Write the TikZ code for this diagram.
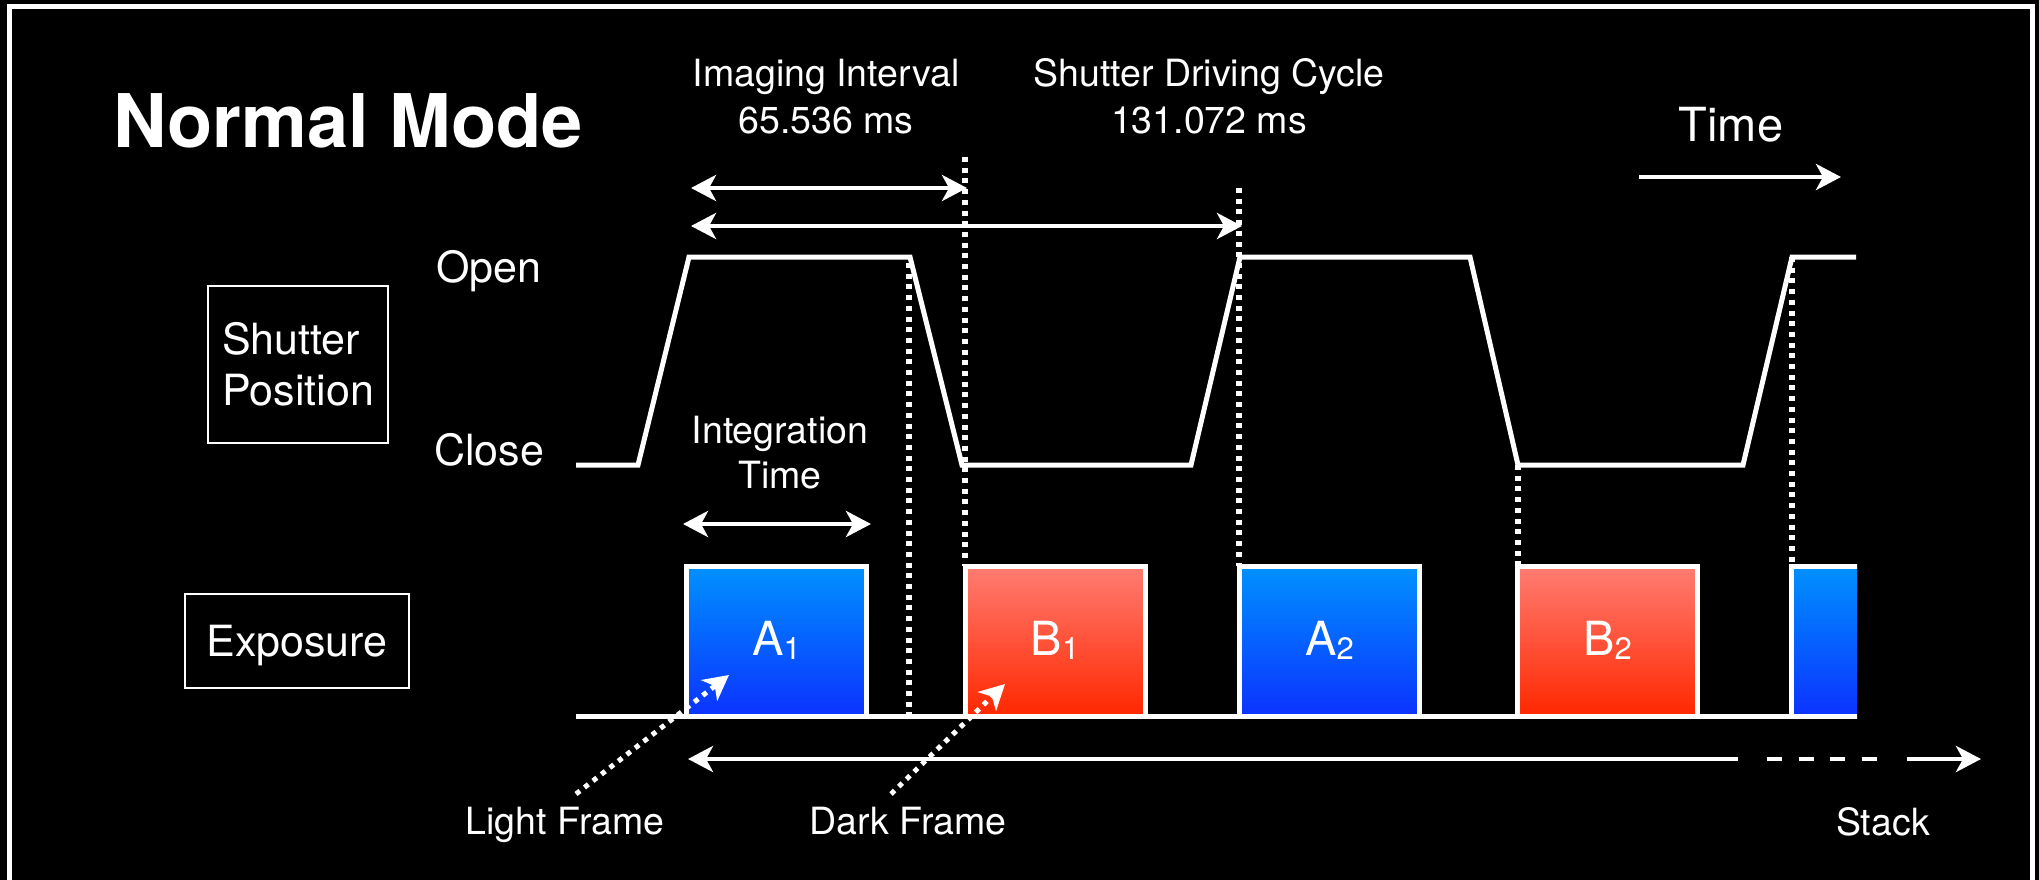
\documentclass[tikz,border=0pt]{standalone}
\usepackage{fontspec}
\setmainfont{TeX Gyre Heros}
\usetikzlibrary{arrows.meta}

\definecolor{bluetop}{RGB}{0,145,255}
\definecolor{bluebot}{RGB}{12,50,255}
\definecolor{redtop}{RGB}{255,124,114}
\definecolor{redbot}{RGB}{255,40,0}

% lowered index digit for the frame names
\newcommand\lowidx[1]{\raisebox{-4pt}{\fontsize{31}{31}\selectfont#1}}

\begin{document}
\begin{tikzpicture}[x=1pt,y=-1pt,
  >={Stealth[length=25pt,width=26pt,inset=7pt]},
  wave/.style={white,line width=5pt,line join=miter},
  guide/.style={white,line width=5.5pt,dash pattern=on 5pt off 5.7pt},
  span/.style={white,line width=4.5pt},
  lbl/.style={text=white,inner sep=0pt,anchor=base,font=\fontsize{37.5}{47}\selectfont},
  side/.style={text=white,inner sep=0pt,anchor=base,font=\fontsize{43}{51}\selectfont},
  frame/.style={draw=white,line width=2.5pt,inner sep=0pt,text=white,font=\fontsize{43}{51}\selectfont},
  light/.style={draw=white,line width=5pt,top color=bluetop,bottom color=bluebot,
    minimum width=180pt,minimum height=150pt,inner sep=0pt,text=white,
    text height=32pt,text depth=4pt,font=\fontsize{47}{47}\selectfont},
  dark/.style={light,top color=redtop,bottom color=redbot},
]
\useasboundingbox (0,0) rectangle (2039,880);
\fill[black] (0,0) rectangle (2039,880);

% outer frame
\draw[white,line width=5pt] (9.5,880) -- (9.5,7) -- (2032,7) -- (2032,880);

% title
\node[text=white,inner sep=0pt,anchor=base west,font=\fontsize{74}{74}\selectfont\bfseries] (title) at (113,147) {Normal Mode};

% row headers
\node[frame,align=left,minimum width=180pt,minimum height=157pt] (sp) at (298,364.5) {Shutter\\Position};
\node[frame,minimum width=224pt,minimum height=94pt,text height=30pt,text depth=0pt] (ex) at (297,641) {Exposure};
\node[side] (open) at (489,282) {Open};
\node[side] (close) at (489,465) {Close};

% exposure frames
\node[light] (a1) at (776.5,641) {A\lowidx{1}};
\node[dark]  (b1) at (1055,641) {B\lowidx{1}};
\node[light] (a2) at (1329.5,641) {A\lowidx{2}};
\node[dark]  (b2) at (1607.5,641) {B\lowidx{2}};
\begin{scope}
  \clip (1700,540) rectangle (1857,730);
  \node[light] (a3) at (1881,641) {};
\end{scope}

% exposure base line
\draw[wave] (576,716) -- (1857,716);

% dotted guides
\draw[guide] (909,263) -- (909,716);
\draw[guide] (965,157) -- (965,566);
\draw[guide] (1239,188) -- (1239,566);
\draw[guide] (1518,465) -- (1518,566);
\draw[guide] (1792,257) -- (1792,566);

% shutter position trace
\draw[wave] (576,465) -- (638,465) -- (689,257) -- (910,257) -- (962,465)
  -- (1191,465) -- (1240,257) -- (1470,257) -- (1518,465)
  -- (1743,465) -- (1792,257) -- (1856,257);

% span arrows
\coordinate (ii-l) at (691,188);  \coordinate (ii-r) at (967,188);
\coordinate (cy-l) at (691,226);  \coordinate (cy-r) at (1242,226);
\coordinate (it-l) at (683,524);  \coordinate (it-r) at (871,524);
\coordinate (t-l)  at (1639,177); \coordinate (t-r)  at (1841,177);
\draw[span,<->] (ii-l) -- (ii-r);
\draw[span,<->] (cy-l) -- (cy-r);
\draw[span,<->] (it-l) -- (it-r);
\draw[span,->]  (t-l) -- (t-r);

% stack arrow
\coordinate (st-l)  at (688,759);
\coordinate (st-m1) at (1738,759);
\coordinate (st-d1) at (1767,759);
\coordinate (st-d2) at (1877,759);
\coordinate (st-m2) at (1907,759);
\coordinate (st-r)  at (1981,759);
\draw[span,<-] (st-l) -- (st-m1);
\draw[span,dash pattern=on 15pt off 16.5pt] (st-d1) -- (st-d2);
\draw[span,->] (st-m2) -- (st-r);

% frame pointers
\coordinate (lf-s) at (576,794); \coordinate (lf-t) at (729,675);
\coordinate (df-s) at (891,794); \coordinate (df-t) at (1005,684);
\draw[guide,line width=5pt,->] (lf-s) -- (lf-t);
\draw[guide,line width=5pt,->] (df-s) -- (df-t);

% labels (multi-line nodes sit on the baseline of their last line)
\node[lbl,align=center] (ii) at (826,133) {Imaging Interval\\65.536 ms};
\node[lbl,align=center] (sdc) at (1209,133) {Shutter Driving Cycle\\131.072 ms};
\node[lbl,font=\fontsize{47}{47}\selectfont] (time) at (1731,142) {Time};
\node[lbl,align=center,font=\fontsize{37.5}{45}\selectfont] (integ) at (780,488) {Integration\\Time};
\node[lbl] (lf) at (565,834) {Light Frame};
\node[lbl] (df) at (908,834) {Dark Frame};
\node[lbl] (stack) at (1883,835) {Stack};
\end{tikzpicture}
\end{document}
